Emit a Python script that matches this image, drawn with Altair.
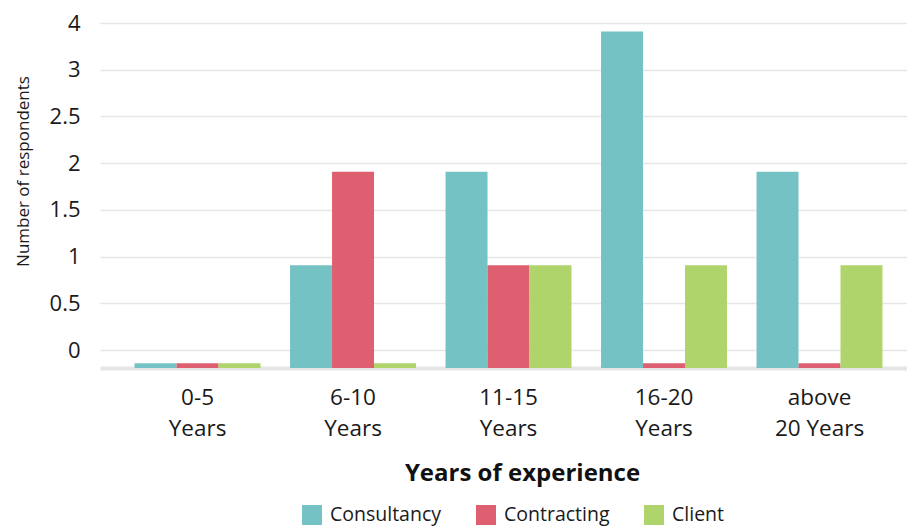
import altair as alt
import pandas as pd

categories = ["0-5 Years", "6-10 Years", "11-15 Years", "16-20 Years", "above 20 Years"]
series = ["Consultancy", "Contracting", "Client"]
consultancy = [-0.14, 0.91, 1.91, 3.41, 1.91]
contracting = [-0.14, 1.91, 0.91, -0.14, -0.14]
client = [-0.14, -0.14, 0.91, 0.91, 0.91]
colors = ["#74c2c3", "#de6070", "#b0d46c"]
y_ticks = [0, 0.5, 1, 1.5, 2, 2.5, 3, 3.5]
baseline = -0.19

rows = []
for s, vals in zip(series, [consultancy, contracting, client]):
    for c, v in zip(categories, vals):
        rows.append({"cat": c, "series": s, "value": v, "base": baseline})
df = pd.DataFrame(rows)

FONT = "Open Sans"

chart = alt.Chart(df).mark_bar().encode(
    x=alt.X("cat:N", sort=categories,
            scale=alt.Scale(paddingInner=0.19, paddingOuter=0.19, align=0.585),
            axis=alt.Axis(title="Years of experience", labelAngle=0,
                          labelExpr="[substring(datum.label,0,indexof(datum.label,' ')), substring(datum.label,indexof(datum.label,' ')+1)]",
                          labelFontSize=22.5, labelLineHeight=31, labelPadding=18,
                          labelColor="#1a1a1a", labelFont=FONT,
                          ticks=False, domainColor="#e4e5e7", domainWidth=4,
                          titleFontSize=24, titleFontWeight="bold", titleFont=FONT,
                          titleColor="#111111", titleX=422, titleY=112,
                          titleAlign="center", titleBaseline="alphabetic")),
    xOffset=alt.XOffset("series:N", sort=series, scale=alt.Scale(paddingInner=0, paddingOuter=0)),
    y=alt.Y("value:Q",
            scale=alt.Scale(domain=[baseline, 3.5], zero=False, nice=False),
            axis=alt.Axis(title="Number of respondents", values=y_ticks, format="~g",
                          labelExpr="datum.value == 3.5 ? '4' : datum.label",
                          labelFontSize=22, labelPadding=20, labelColor="#1a1a1a",
                          labelFont=FONT, ticks=False, domain=False,
                          gridColor="#e6e6e6", gridWidth=1.5,
                          titleFontSize=17, titleFontWeight="normal", titleFont=FONT,
                          titleColor="#1a1a1a", titleX=-77, titleY=148,
                          titleBaseline="middle", titleAlign="center")),
    y2="base:Q",
    color=alt.Color("series:N", sort=series,
                    scale=alt.Scale(domain=series, range=colors),
                    legend=alt.Legend(title=None, orient="none", direction="horizontal",
                                      legendX=202, legendY=482, symbolType="square",
                                      symbolSize=400, symbolStrokeWidth=0,
                                      labelFontSize=19.5, labelFont=FONT, labelColor="#1a1a1a",
                                      labelOffset=8, columnPadding=34, padding=0)),
).properties(
    width=807, height=345,
    autosize=alt.AutoSizeParams(type="none"),
    padding={"left": 92, "top": 15, "right": 0, "bottom": 162},
).configure_view(stroke=None)

chart.save("out.html", embed_options={"renderer": "svg", "actions": False})
